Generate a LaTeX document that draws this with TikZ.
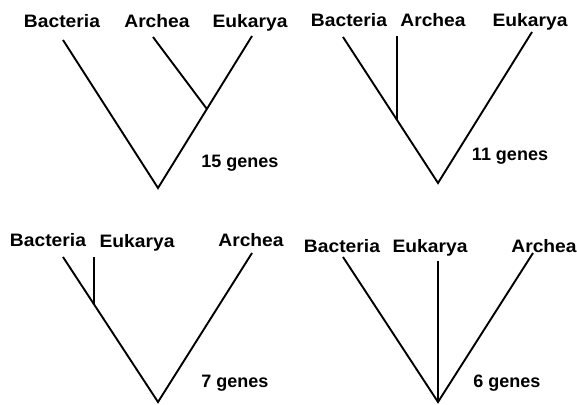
\documentclass[tikz,border=0pt]{standalone}
\usepackage{fontspec}
\setmainfont{Liberation Sans}
\usetikzlibrary{calc}
\tikzset{
  lbl/.style={anchor=base, inner sep=0pt, font=\fontsize{18}{21}\selectfont\bfseries},
  branch/.style={line width=1.9pt, line cap=butt}
}
\newcommand{\wlbl}[1]{\scalebox{1.07}[1]{#1}}
\begin{document}
\begin{tikzpicture}[x=1pt,y=-1pt]
\useasboundingbox (0,0) rectangle (577,404);
% ---------- panel 1
\node[lbl] (b1) at (62,28) {\wlbl{Bacteria}};
\node[lbl] (a1) at (157,28) {\wlbl{Archea}};
\node[lbl] (e1) at (250,28) {\wlbl{Eukarya}};
\node[lbl] (g1) at (240,167) {15 genes};
\coordinate (r1) at (158,188);
\coordinate (tb1) at (63,40);
\coordinate (te1) at (252,36);
\coordinate (ta1) at (153,37);
\coordinate (j1) at ($(r1)!0.52!(te1)$);
\draw[branch] (tb1) -- (r1) -- (te1);
\draw[branch] (ta1) -- (j1);
% ---------- panel 2
\node[lbl] (b2) at (349,27) {\wlbl{Bacteria}};
\node[lbl] (a2) at (433,27) {\wlbl{Archea}};
\node[lbl] (e2) at (530,27) {\wlbl{Eukarya}};
\node[lbl] (g2) at (510,160) {11 genes};
\coordinate (r2) at (438,183);
\coordinate (tb2) at (343,37);
\coordinate (te2) at (532,32);
\coordinate (j2) at ($(r2)!0.432!(tb2)$);
\coordinate (ta2) at (j2 |- 0,36);
\draw[branch] (tb2) -- (r2) -- (te2);
\draw[branch] (ta2) -- (j2);
% ---------- panel 3
\node[lbl] (b3) at (48,246) {\wlbl{Bacteria}};
\node[lbl] (e3) at (137,247) {\wlbl{Eukarya}};
\node[lbl] (a3) at (251,246) {\wlbl{Archea}};
\node[lbl] (g3) at (235,387) {7 genes};
\coordinate (r3) at (158,402);
\coordinate (tb3) at (63,257);
\coordinate (ta3) at (252,253);
\coordinate (j3) at ($(r3)!0.674!(tb3)$);
\coordinate (te3) at (j3 |- 0,257);
\draw[branch] (tb3) -- (r3) -- (ta3);
\draw[branch] (te3) -- (j3);
% ---------- panel 4
\node[lbl] (b4) at (342,252) {\wlbl{Bacteria}};
\node[lbl] (e4) at (430,252) {\wlbl{Eukarya}};
\node[lbl] (a4) at (544,252) {\wlbl{Archea}};
\node[lbl] (g4) at (507,387) {6 genes};
\coordinate (r4) at (438,402);
\coordinate (tb4) at (343,257);
\coordinate (ta4) at (533,253);
\coordinate (te4) at (438,261);
\draw[branch] (tb4) -- (r4) -- (ta4);
\draw[branch] (te4) -- (r4);
\end{tikzpicture}
\end{document}
